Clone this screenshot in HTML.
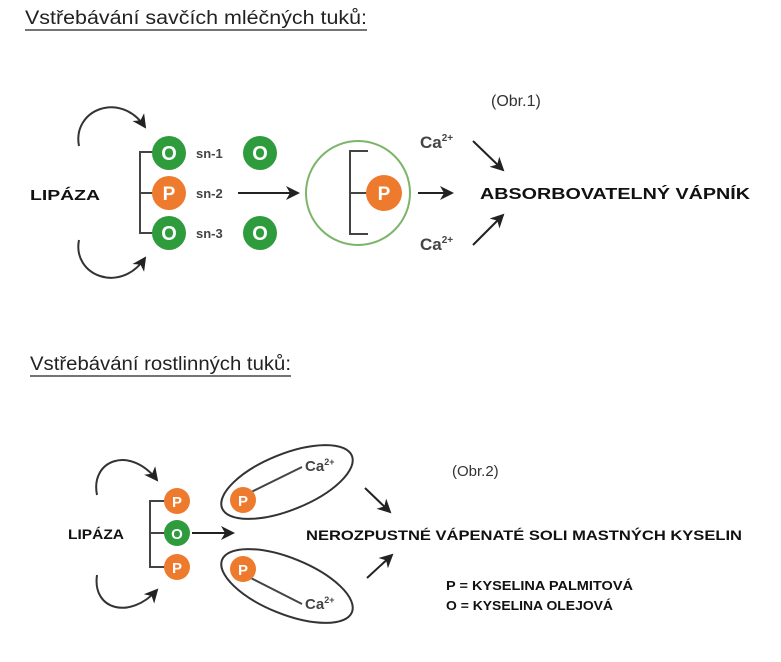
<!DOCTYPE html>
<html><head><meta charset="utf-8"><style>
html,body{margin:0;padding:0;background:#fff;}
svg{display:block;}
text{font-family:"Liberation Sans",sans-serif;}
</style></head><body>
<svg width="781" height="662" viewBox="0 0 781 662" xmlns="http://www.w3.org/2000/svg">
<defs>
<marker id="ah2" markerWidth="14" markerHeight="14" refX="12" refY="7" orient="auto" markerUnits="userSpaceOnUse">
<path d="M0,0 L14,7 L0,14 L4,7 Z" fill="#222"/></marker>
</defs>
<!-- Titles -->
<text x="25" y="24" font-size="19" fill="#222" textLength="342" lengthAdjust="spacingAndGlyphs">Vstřebávání  savčích mléčných tuků:</text>
<line x1="25" y1="30" x2="367" y2="30" stroke="#222" stroke-width="1.3"/>
<text x="30" y="370" font-size="19" fill="#222" textLength="261" lengthAdjust="spacingAndGlyphs">Vstřebávání rostlinných tuků:</text>
<line x1="30" y1="376" x2="291" y2="376" stroke="#222" stroke-width="1.3"/>

<!-- Diagram 1 -->
<text x="30" y="200" font-size="15" font-weight="bold" fill="#111" textLength="70" lengthAdjust="spacingAndGlyphs">LIPÁZA</text>
<path d="M79,146 C72,110 120,90 145,127" fill="none" stroke="#333" stroke-width="2" marker-end="url(#ah2)"/>
<path d="M79,240 C72,275 120,295 145,258" fill="none" stroke="#333" stroke-width="2" marker-end="url(#ah2)"/>
<path d="M160,152 H140 V233 H160 M140,193 H160" fill="none" stroke="#444" stroke-width="2"/>
<circle cx="169" cy="153" r="17" fill="#2e9b3c"/><text x="169" y="160" font-size="20" font-weight="bold" fill="#fff" text-anchor="middle" font-family="Liberation Serif">O</text>
<circle cx="169" cy="193" r="17" fill="#ee7a2e"/><text x="169" y="200" font-size="19" font-weight="bold" fill="#fff" text-anchor="middle">P</text>
<circle cx="169" cy="233" r="17" fill="#2e9b3c"/><text x="169" y="240" font-size="20" font-weight="bold" fill="#fff" text-anchor="middle" font-family="Liberation Serif">O</text>
<text x="196" y="158" font-size="13" font-weight="bold" fill="#444">sn-1</text>
<text x="196" y="198" font-size="13" font-weight="bold" fill="#444">sn-2</text>
<text x="196" y="238" font-size="13" font-weight="bold" fill="#444">sn-3</text>
<circle cx="260" cy="153" r="17" fill="#2e9b3c"/><text x="260" y="160" font-size="20" font-weight="bold" fill="#fff" text-anchor="middle" font-family="Liberation Serif">O</text>
<circle cx="260" cy="233" r="17" fill="#2e9b3c"/><text x="260" y="240" font-size="20" font-weight="bold" fill="#fff" text-anchor="middle" font-family="Liberation Serif">O</text>
<line x1="238" y1="193" x2="298" y2="193" stroke="#222" stroke-width="2" marker-end="url(#ah2)"/>
<circle cx="358" cy="193" r="52" fill="none" stroke="#7cb56a" stroke-width="2"/>
<path d="M368,151 H350 V234 H368 M350,193 H368" fill="none" stroke="#444" stroke-width="2"/>
<circle cx="384" cy="193" r="18" fill="#ee7a2e"/><text x="384" y="200" font-size="19" font-weight="bold" fill="#fff" text-anchor="middle">P</text>
<line x1="418" y1="193" x2="452" y2="193" stroke="#222" stroke-width="2" marker-end="url(#ah2)"/>
<text x="420" y="148" font-size="17" font-weight="bold" fill="#444">Ca<tspan font-size="10" dy="-7">2+</tspan></text>
<text x="420" y="250" font-size="17" font-weight="bold" fill="#444">Ca<tspan font-size="10" dy="-7">2+</tspan></text>
<line x1="473" y1="141" x2="503" y2="170" stroke="#222" stroke-width="2" marker-end="url(#ah2)"/>
<line x1="473" y1="245" x2="503" y2="215" stroke="#222" stroke-width="2" marker-end="url(#ah2)"/>
<text x="480" y="199" font-size="16" font-weight="bold" fill="#111" textLength="270" lengthAdjust="spacingAndGlyphs">ABSORBOVATELNÝ  VÁPNÍK</text>
<text x="491" y="106" font-size="16" fill="#333">(Obr.1)</text>

<!-- Diagram 2 -->
<text x="68" y="539" font-size="14" font-weight="bold" fill="#111" textLength="56" lengthAdjust="spacingAndGlyphs">LIPÁZA</text>
<path d="M97,495 C90,460 130,445 157,480" fill="none" stroke="#333" stroke-width="2" marker-end="url(#ah2)"/>
<path d="M97,575 C92,610 130,620 157,590" fill="none" stroke="#333" stroke-width="2" marker-end="url(#ah2)"/>
<path d="M166,501 H150 V567 H166 M150,533 H166" fill="none" stroke="#444" stroke-width="2"/>
<circle cx="177" cy="501" r="13" fill="#ee7a2e"/><text x="177" y="507" font-size="15" font-weight="bold" fill="#fff" text-anchor="middle">P</text>
<circle cx="177" cy="533" r="13" fill="#2e9b3c"/><text x="177" y="539" font-size="15" font-weight="bold" fill="#fff" text-anchor="middle">O</text>
<circle cx="177" cy="567" r="13" fill="#ee7a2e"/><text x="177" y="573" font-size="15" font-weight="bold" fill="#fff" text-anchor="middle">P</text>
<line x1="192" y1="533" x2="233" y2="533" stroke="#222" stroke-width="2" marker-end="url(#ah2)"/>
<ellipse cx="287" cy="482" rx="70" ry="28" transform="rotate(-22 287 482)" fill="none" stroke="#333" stroke-width="2"/>
<ellipse cx="287" cy="586" rx="70" ry="28" transform="rotate(22 287 586)" fill="none" stroke="#333" stroke-width="2"/>
<line x1="243" y1="496" x2="302" y2="467" stroke="#444" stroke-width="2"/>
<line x1="243" y1="574" x2="302" y2="604" stroke="#444" stroke-width="2"/>
<circle cx="243" cy="500" r="13" fill="#ee7a2e"/><text x="243" y="506" font-size="15" font-weight="bold" fill="#fff" text-anchor="middle">P</text>
<circle cx="243" cy="569" r="13" fill="#ee7a2e"/><text x="243" y="575" font-size="15" font-weight="bold" fill="#fff" text-anchor="middle">P</text>
<text x="305" y="471" font-size="15" font-weight="bold" fill="#444">Ca<tspan font-size="9" dy="-6">2+</tspan></text>
<text x="305" y="609" font-size="15" font-weight="bold" fill="#444">Ca<tspan font-size="9" dy="-6">2+</tspan></text>
<line x1="365" y1="488" x2="390" y2="512" stroke="#222" stroke-width="2" marker-end="url(#ah2)"/>
<line x1="367" y1="578" x2="392" y2="555" stroke="#222" stroke-width="2" marker-end="url(#ah2)"/>
<text x="306" y="540" font-size="14" font-weight="bold" fill="#111" textLength="436" lengthAdjust="spacingAndGlyphs">NEROZPUSTNÉ VÁPENATÉ SOLI MASTNÝCH KYSELIN</text>
<text x="452" y="476" font-size="15" fill="#333">(Obr.2)</text>
<text x="446" y="590" font-size="13" font-weight="bold" fill="#111" textLength="187" lengthAdjust="spacingAndGlyphs">P = KYSELINA PALMITOVÁ</text>
<text x="446" y="610" font-size="13" font-weight="bold" fill="#111" textLength="167" lengthAdjust="spacingAndGlyphs">O = KYSELINA OLEJOVÁ</text>
</svg>
</body></html>
